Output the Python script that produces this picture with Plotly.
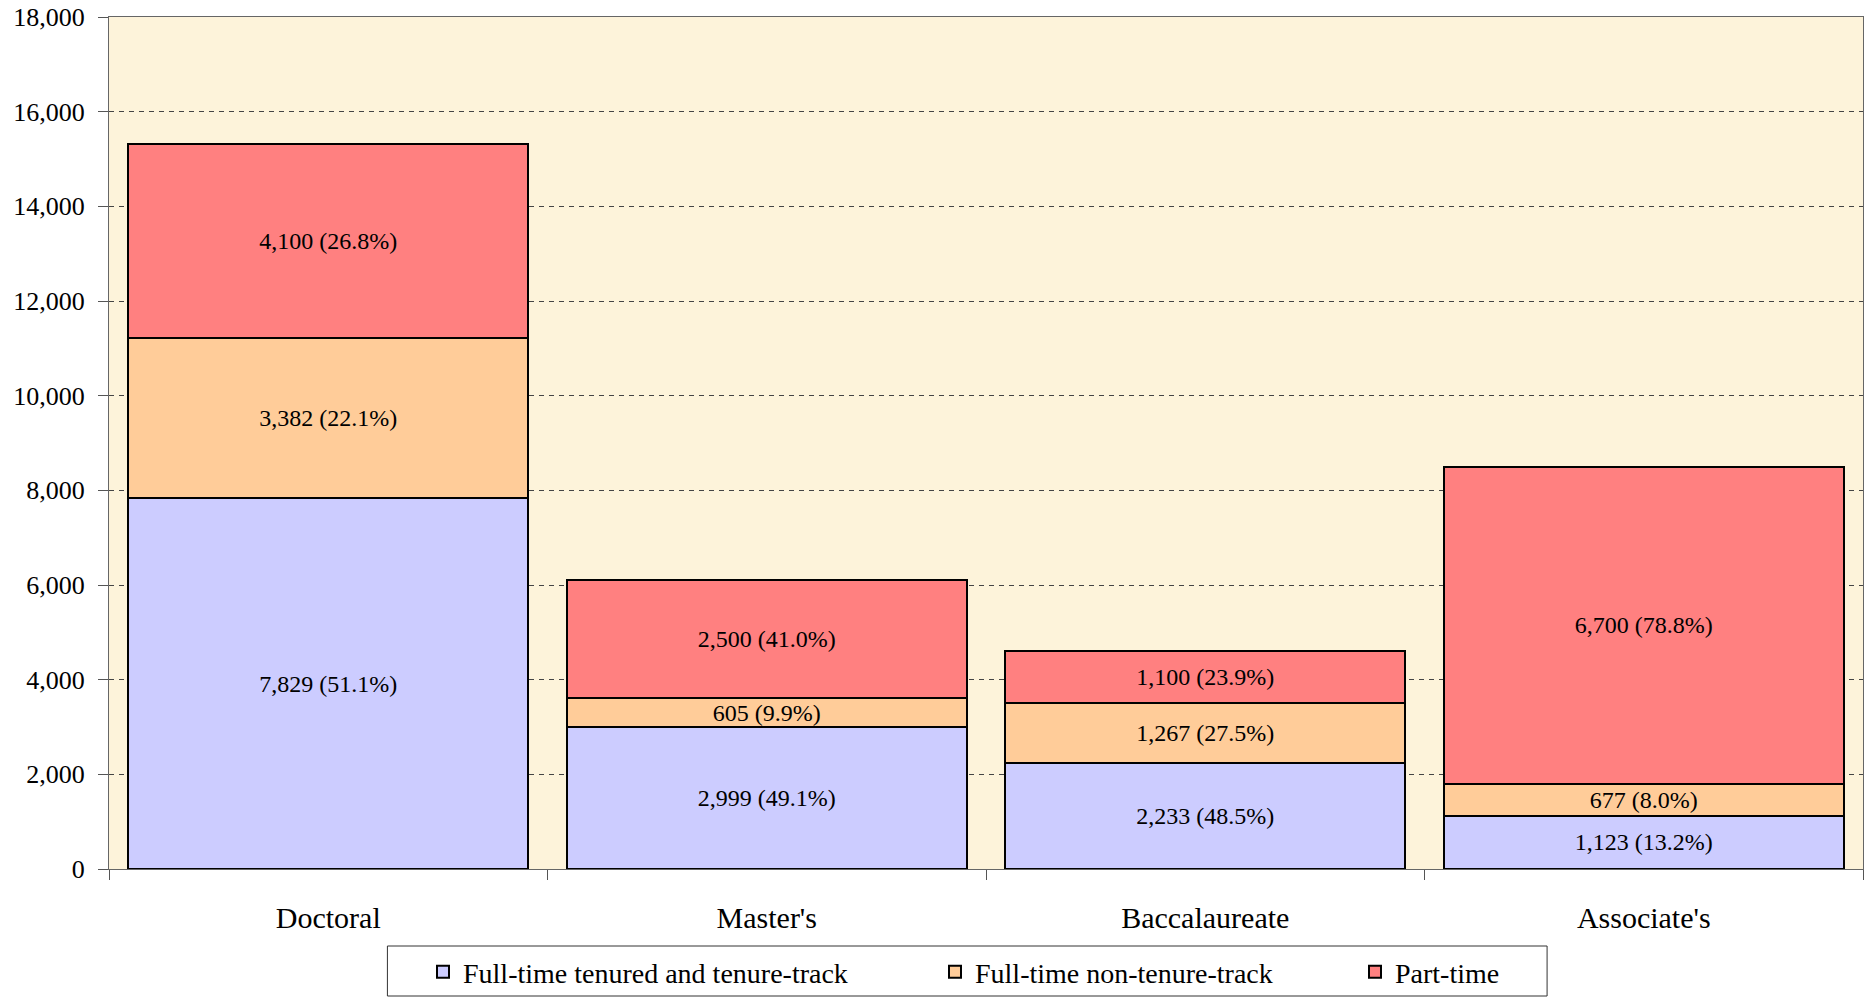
import plotly.graph_objects as go

categories = ["Doctoral", "Master's", "Baccalaureate", "Associate's"]
series_names = ["Full-time tenured and tenure-track", "Full-time non-tenure-track", "Part-time"]
tenured = [7829, 2999, 2233, 1123]
non_tenure = [3382, 605, 1267, 677]
part_time = [4100, 2500, 1100, 6700]
colors = ["#CCCCFF", "#FFCC99", "#FF8080"]
y_ticks = [0, 2000, 4000, 6000, 8000, 10000, 12000, 14000, 16000, 18000]

series = [tenured, non_tenure, part_time]
totals = [sum(v) for v in zip(*series)]

W, H = 1866, 997
FONT = "Liberation Serif, Times New Roman, serif"

fig = go.Figure()
legend_ids = ["legend2", "legend3", "legend4"]
for name, vals, col, lg in zip(series_names, series, colors, legend_ids):
    texts = [f"{v:,} ({v / t * 100:.1f}%)" for v, t in zip(vals, totals)]
    fig.add_trace(go.Bar(
        x=categories, y=vals, name=name, legend=lg,
        marker=dict(color=col, line=dict(color="black", width=2)),
        text=texts, textposition="inside", insidetextanchor="middle",
        constraintext="none", textangle=0,
        textfont=dict(family=FONT, size=24, color="black"),
        hoverinfo="skip",
    ))

# legend item positions in container pixels (left of symbol area)
leg_x = [433, 945, 1365]
legend_common = dict(
    orientation="h", xref="container", yref="container",
    yanchor="middle", xanchor="left", y=1 - 972 / H,
    bgcolor="rgba(0,0,0,0)", borderwidth=0,
    font=dict(family=FONT, size=28, color="black"),
)
fig.update_layout(
    showlegend=True,
    legend2=dict(x=(leg_x[0] - 10) / W, **legend_common),
    legend3=dict(x=(leg_x[1] - 10) / W, **legend_common),
    legend4=dict(x=(leg_x[2] - 10) / W, **legend_common),
)

pl, pr, pt, pb = 108.5, 1863, 17, 869
pw, ph = pr - pl, pb - pt

def px_x(x):
    return (x - pl) / pw

def px_y(y):
    return (pb - y) / ph

fig.add_shape(type="rect", xref="paper", yref="paper",
              x0=px_x(387), x1=px_x(1547), y0=px_y(996), y1=px_y(946),
              line=dict(color="#333333", width=1), fillcolor="white", layer="below")

fig.update_layout(
    width=W, height=H,
    margin=dict(l=pl, r=W - pr, t=pt, b=H - pb, pad=0),
    barmode="stack", bargap=0.088,
    paper_bgcolor="white", plot_bgcolor="#FDF3DA",
    font=dict(family=FONT, color="black"),
    xaxis=dict(
        type="category", tickson="boundaries", ticks="outside", ticklen=10,
        tickcolor="#555555", tickwidth=1,
        showline=True, linecolor="#666666", linewidth=1, mirror=True,
        showgrid=False, ticklabelstandoff=22,
        tickfont=dict(family=FONT, size=30, color="black"),
    ),
    yaxis=dict(
        range=[0, 18000], tickvals=y_ticks, tickformat=",",
        ticks="outside", ticklen=10, tickcolor="#555555", tickwidth=1,
        showline=True, linecolor="#666666", linewidth=1, mirror=True,
        showgrid=True, gridcolor="#444444", gridwidth=1, griddash="5px,5px",
        zeroline=False, ticklabelstandoff=8,
        tickfont=dict(family=FONT, size=26, color="black"),
    ),
)

fig.write_html("out.html", config={"displayModeBar": False},
               post_script="document.body.style.margin='0px';document.body.style.overflow='hidden';")
